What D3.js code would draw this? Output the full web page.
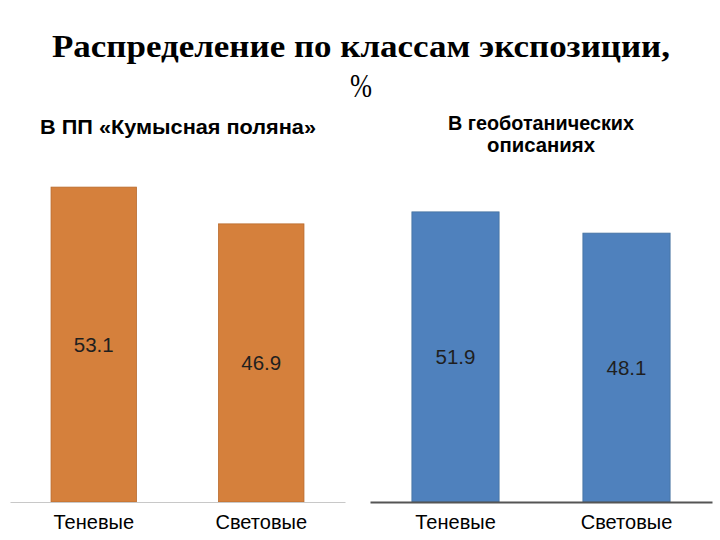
<!DOCTYPE html>
<html>
<head>
<meta charset="utf-8">
<script src="https://cdn.jsdelivr.net/npm/d3@7"></script>
<style>
  html, body { margin: 0; padding: 0; background: #fff; }
  svg { display: block; }
</style>
</head>
<body>
<svg id="chart" width="720" height="540"></svg>
<script>
const categories = ["Теневые", "Световые"];
const valuesLeft = [53.1, 46.9];
const valuesRight = [51.9, 48.1];
const titleLines = ["Распределение по классам экспозиции,", "%"];
const subtitleLeft = ["В ПП «Кумысная поляна»"];
const subtitleRight = ["В геоботанических", "описаниях"];

const svg = d3.select("#chart");
const sans = "'Liberation Sans', Arial, sans-serif";
const serif = "'Liberation Serif', 'DejaVu Serif', serif";

// Title
svg.append("text")
  .attr("x", 361).attr("y", 57)
  .attr("text-anchor", "middle")
  .attr("font-family", serif).attr("font-weight", "bold")
  .attr("font-size", 31)
  .attr("textLength", 618).attr("lengthAdjust", "spacingAndGlyphs")
  .attr("fill", "#000")
  .text(titleLines[0]);
svg.append("text")
  .attr("x", 361).attr("y", 97)
  .attr("text-anchor", "middle")
  .attr("font-family", serif).attr("font-weight", "normal")
  .attr("font-size", 33)
  .attr("textLength", 22).attr("lengthAdjust", "spacingAndGlyphs")
  .attr("fill", "#000")
  .text(titleLines[1]);

// Subtitles
svg.append("text")
  .attr("x", 178).attr("y", 134)
  .attr("text-anchor", "middle")
  .attr("font-family", sans).attr("font-weight", "bold")
  .attr("font-size", 20.5)
  .attr("textLength", 276).attr("lengthAdjust", "spacingAndGlyphs")
  .attr("fill", "#000")
  .text(subtitleLeft[0]);
const rLens = [186, 108];
const rYs = [130, 152];
subtitleRight.forEach((t, i) => {
  svg.append("text")
    .attr("x", 541).attr("y", rYs[i])
    .attr("text-anchor", "middle")
    .attr("font-family", sans).attr("font-weight", "bold")
    .attr("font-size", 20.5)
    .attr("textLength", rLens[i]).attr("lengthAdjust", "spacingAndGlyphs")
    .attr("fill", "#000")
    .text(t);
});

function drawPanel(cfg) {
  const x = d3.scaleBand().domain(categories)
    .range([cfg.x0, cfg.x1]).paddingInner(0.49).paddingOuter(0.245);
  const y = d3.scaleLinear().domain([0, 60]).range([cfg.base, cfg.base - cfg.pxPerUnit * 60]);
  const data = categories.map((c, i) => ({ c, v: cfg.values[i] }));
  const g = svg.append("g");

  g.selectAll("rect").data(data).join("rect")
    .attr("x", d => x(d.c))
    .attr("y", d => y(d.v))
    .attr("width", x.bandwidth())
    .attr("height", d => y(0) - y(d.v))
    .attr("fill", cfg.color)
    .attr("stroke", cfg.stroke).attr("stroke-width", 0.8);

  g.selectAll("text.val").data(data).join("text")
    .attr("class", "val")
    .attr("x", d => x(d.c) + x.bandwidth() / 2)
    .attr("y", d => (y(d.v) + y(0)) / 2 + 7.5)
    .attr("text-anchor", "middle")
    .attr("font-family", sans).attr("font-size", 20.5)
    .attr("fill", "#1f1f1f")
    .text(d => d.v.toFixed(1));

  const axis = d3.axisBottom(x).tickSize(0).tickPadding(9).tickSizeOuter(0);
  const ax = g.append("g").attr("transform", `translate(0,${cfg.base})`).call(axis);
  ax.select(".domain").attr("stroke", cfg.axisColor).attr("stroke-width", cfg.axisWidth);
  ax.selectAll("text")
    .attr("font-family", sans).attr("font-size", 20)
    .attr("fill", "#000")
    .attr("dy", "0.9em");
}

drawPanel({ x0: 10, x1: 345, base: 502, pxPerUnit: 5.93, values: valuesLeft,
  color: "#D5803C", stroke: "#b86a2c", axisColor: "#c8c8c8", axisWidth: 1.2 });
drawPanel({ x0: 370, x1: 712, base: 502, pxPerUnit: 5.59, values: valuesRight,
  color: "#4F81BD", stroke: "#45719f", axisColor: "#555", axisWidth: 2 });
</script>
</body>
</html>
